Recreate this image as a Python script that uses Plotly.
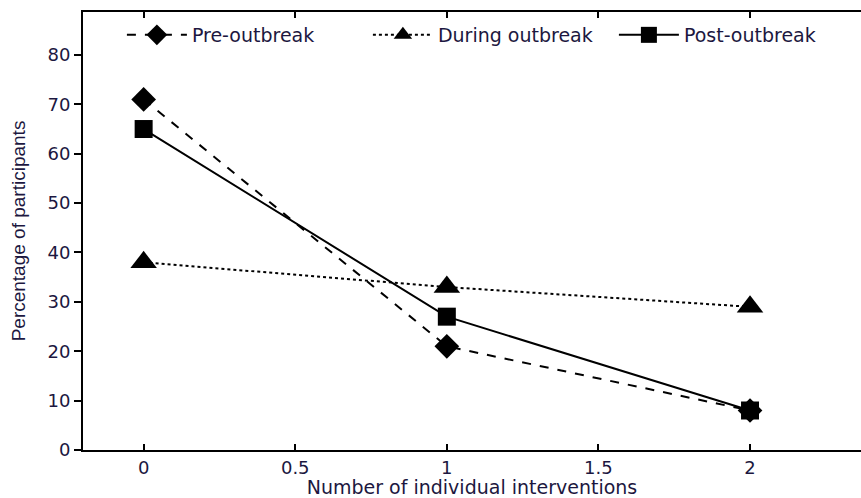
import plotly.graph_objects as go

x_vals = [0, 1, 2]
pre_outbreak = [71, 21, 8]
during_outbreak = [38, 33, 29]
post_outbreak = [65, 27, 8]
series_names = ["Pre-outbreak", "During outbreak", "Post-outbreak"]
x_ticks = [0, 0.5, 1, 1.5, 2]
x_tick_text = ["0", "0.5", "1", "1.5", "2"]
y_ticks = [0, 10, 20, 30, 40, 50, 60, 70, 80]

font_fam = "DejaVu Sans, Verdana, sans-serif"
txt_col = "#1c1740"

fig = go.Figure()
fig.add_trace(go.Scatter(x=x_vals, y=pre_outbreak, name=series_names[0], mode="lines+markers",
                         line=dict(color="black", width=2, dash="dash"),
                         marker=dict(symbol="diamond", size=19, color="black")))
fig.add_trace(go.Scatter(x=x_vals, y=during_outbreak, name=series_names[1], mode="lines+markers",
                         line=dict(color="black", width=2, dash="dot"),
                         marker=dict(symbol="triangle-up", size=23, color="black")))
fig.add_trace(go.Scatter(x=x_vals, y=post_outbreak, name=series_names[2], mode="lines+markers",
                         line=dict(color="black", width=2),
                         marker=dict(symbol="square", size=18, color="black")))

fig.update_layout(
    width=861, height=498,
    margin=dict(l=83, r=0, t=12, b=48),
    paper_bgcolor="white", plot_bgcolor="white",
    font=dict(family=font_fam, size=18, color=txt_col),
    legend=dict(orientation="h", x=0.05, y=0.9475, xanchor="left", yanchor="middle",
                bgcolor="rgba(0,0,0,0)", font=dict(size=19, color=txt_col),
                itemwidth=60, entrywidth=171, entrywidthmode="pixels"),
    xaxis=dict(range=[-0.2, 2.366], tickvals=x_ticks, ticktext=x_tick_text, automargin=False,
               showgrid=False, zeroline=False, showline=True, linecolor="black", linewidth=2,
               ticks="inside", ticklen=6, tickwidth=2, tickcolor="black", mirror="ticks",
               title=dict(text="Number of individual interventions", font=dict(size=19), standoff=2)),
    yaxis=dict(range=[0, 88.7], tickvals=y_ticks, automargin=False,
               showgrid=False, zeroline=False, showline=True, linecolor="black", linewidth=2,
               ticks="outside", ticklen=7, tickwidth=2, tickcolor="black",
               title=dict(text="Percentage of participants",
                          font=dict(size=19, family="Liberation Sans Narrow, Arial Narrow, sans-serif"),
                          standoff=17)),
)

fig.write_html("out.html", config={"displayModeBar": False},
               post_script="document.body.style.margin='0';document.body.style.overflow='hidden';")
